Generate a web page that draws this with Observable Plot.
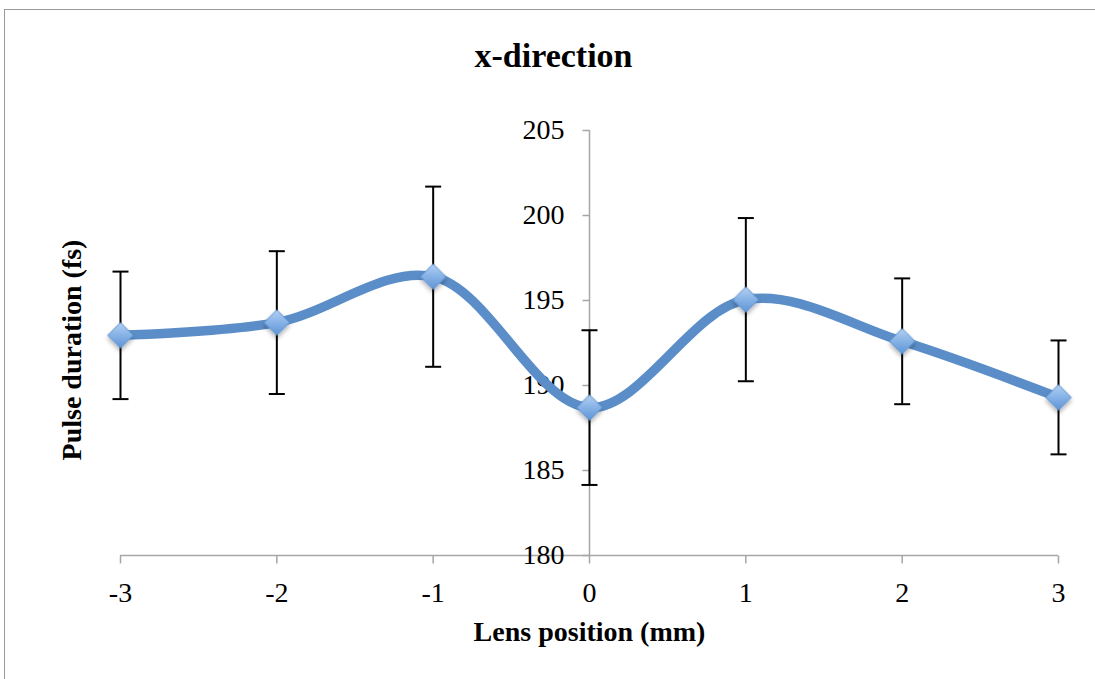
<!DOCTYPE html>
<html>
<head>
<meta charset="utf-8">
<script src="https://cdn.jsdelivr.net/npm/d3@7"></script>
<script src="https://cdn.jsdelivr.net/npm/@observablehq/plot@0.6"></script>
<style>
  html, body { margin: 0; padding: 0; background: #fff; overflow: hidden; }
  #wrap { position: relative; width: 1095px; height: 679px; overflow: hidden; }
  #border { position: absolute; left: 4px; top: 9px; width: 1200px; height: 800px;
            border: 1.5px solid #9a9a9a; box-sizing: border-box; pointer-events: none; }
  #chart { position: absolute; left: 0; top: 0; }
</style>
</head>
<body>
<div id="wrap"><div id="chart"></div><div id="border"></div></div>
<script>
// Lens position (mm) and measured pulse duration (fs) with error bars
const lensPosition = [-3, -2, -1, 0, 1, 2, 3];
const pulseDuration = [192.95, 193.7, 196.4, 188.7, 195.05, 192.6, 189.3];
const pulseError = [3.75, 4.2, 5.3, 4.55, 4.8, 3.7, 3.35];
const yTicks = [180, 185, 190, 195, 200, 205];
const xTicks = [-3, -2, -1, 0, 1, 2, 3];

const data = lensPosition.map((x, i) => ({
  x, y: pulseDuration[i],
  lo: pulseDuration[i] - pulseError[i],
  hi: pulseDuration[i] + pulseError[i]
}));

// small path symbols for axis ticks and error-bar caps
const capSymbol = {draw(ctx) { ctx.moveTo(-8, 0); ctx.lineTo(8, 0); }};
const leftTickSymbol = {draw(ctx) { ctx.moveTo(-7, 0); ctx.lineTo(0, 0); }};
const downTickSymbol = {draw(ctx) { ctx.moveTo(0, 0); ctx.lineTo(0, 8); }};

const font = "'Liberation Serif', 'DejaVu Serif', serif";
const axisGray = "#a6a6a6";
const lineBlue = "#5b8ec8";

const svg = Plot.plot({
  width: 1095,
  height: 679,
  marginLeft: 120,
  marginRight: 37,
  marginTop: 130,
  marginBottom: 124,
  style: {fontFamily: font, background: "transparent", overflow: "visible"},
  x: {domain: [-3, 3], axis: null},
  y: {domain: [180, 205], axis: null},
  marks: [
    // axes: vertical axis crosses at x = 0, horizontal at y = 180
    Plot.ruleX([0], {y1: 180, y2: 205, stroke: axisGray, strokeWidth: 1.5}),
    Plot.ruleY([180], {x1: -3, x2: 3, stroke: axisGray, strokeWidth: 1.5}),
    Plot.dot(yTicks, {x: 0, y: d => d, symbol: leftTickSymbol, stroke: axisGray, strokeWidth: 1.5, fill: "none"}),
    Plot.dot(xTicks, {x: d => d, y: 180, symbol: downTickSymbol, stroke: axisGray, strokeWidth: 1.5, fill: "none"}),
    Plot.text(yTicks, {x: 0, y: d => d, text: d => String(d), dx: -25, textAnchor: "end",
      fontSize: 28, fill: "#000"}),
    Plot.text(xTicks, {x: d => d, y: 180, text: d => String(d), dy: 38,
      fontSize: 28, fill: "#000"}),
    // error bars
    Plot.ruleX(data, {x: "x", y1: "lo", y2: "hi", stroke: "#000", strokeWidth: 2}),
    Plot.dot(data, {x: "x", y: "lo", symbol: capSymbol, stroke: "#000", strokeWidth: 2, fill: "none"}),
    Plot.dot(data, {x: "x", y: "hi", symbol: capSymbol, stroke: "#000", strokeWidth: 2, fill: "none"}),
    // smoothed series line
    Plot.line(data, {x: "x", y: "y", curve: "catmull-rom", stroke: lineBlue, strokeWidth: 9.5,
      strokeLinecap: "round", strokeLinejoin: "round"}),
    // diamond markers
    Plot.dot(data, {x: "x", y: "y", symbol: "diamond2", r: 11.5, fill: "url(#diamondFill)",
      stroke: "#5d8fcb", strokeWidth: 1}),
    // titles
    Plot.text(["x-direction"], {frameAnchor: "top", dx: -36, dy: -88, fontSize: 34,
      fontWeight: "bold", fill: "#000"}),
    Plot.text(["Lens position (mm)"], {frameAnchor: "bottom", dy: 85, fontSize: 28,
      fontWeight: "bold", fill: "#000"}),
    Plot.text(["Pulse duration (fs)"], {frameAnchor: "left", textAnchor: "middle", dx: -48,
      dy: 7, rotate: -90, fontSize: 28, fontWeight: "bold", fill: "#000"})
  ]
});

// gradient fill and soft shadow for the markers
d3.select(svg).insert("defs", ":first-child").html(`
  <linearGradient id="diamondFill" x1="0" y1="0" x2="0" y2="1">
    <stop offset="0" stop-color="#b3d1f3"/>
    <stop offset="0.5" stop-color="#86b2e6"/>
    <stop offset="1" stop-color="#5f94d6"/>
  </linearGradient>
  <filter id="markerShadow" x="-50%" y="-50%" width="200%" height="200%">
    <feDropShadow dx="0" dy="3" stdDeviation="2" flood-color="#000" flood-opacity="0.3"/>
  </filter>`);
const dotGroups = svg.querySelectorAll('g[aria-label="dot"]');
dotGroups[dotGroups.length - 1].setAttribute("filter", "url(#markerShadow)");

document.getElementById("chart").appendChild(svg);
</script>
</body>
</html>
